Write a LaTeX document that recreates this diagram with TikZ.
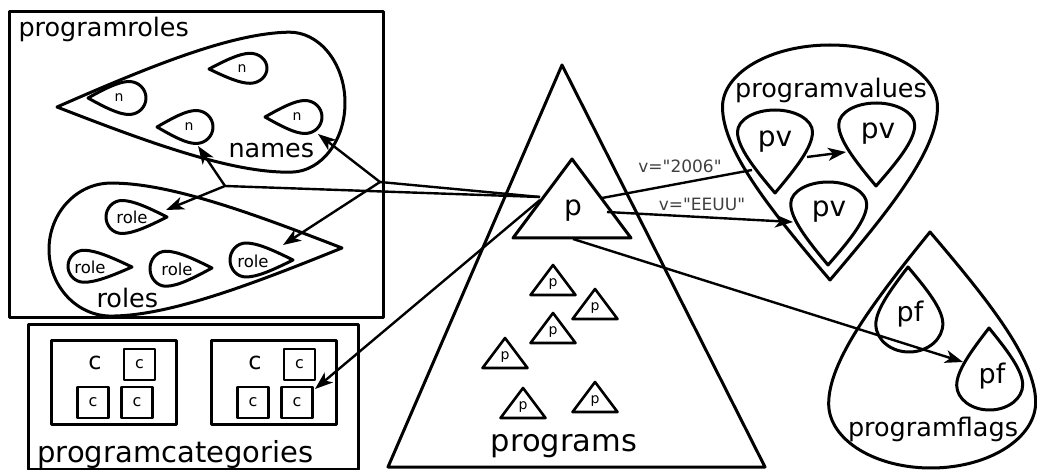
\documentclass[tikz,border=0pt]{standalone}
\usepackage{fontspec}
\setmainfont{DejaVu Sans}
\newfontfamily\rawfont{DejaVu Sans}[Ligatures=TeXOff]
\usetikzlibrary{arrows.meta}

% teardrop: tip x, tip y, far end x, far end y, half width, depth of the round part
\newcommand{\drop}[6]{%
  \pgfmathsetmacro{\dropang}{atan2(-(#4-#2),#3-#1)}
  \pgfmathsetmacro{\droplen}{veclen(#3-#1,#4-#2)}
  \pgfmathsetmacro{\dropmid}{\droplen-#6}
  \draw[shift={(#1,#2)},rotate=\dropang] (0,0)
    .. controls ({0.4*\dropmid},{0.55*#5}) and ({0.75*\dropmid},{#5}) .. (\dropmid,#5)
    arc[start angle=90,end angle=-90,x radius=#6,y radius=#5]
    .. controls ({0.75*\dropmid},{-#5}) and ({0.4*\dropmid},{-0.55*#5}) .. cycle;
}

\tikzset{
  link/.style={line width=2.4pt,-{Stealth[length=18pt,width=13pt,inset=5pt]}},
  plain link/.style={line width=2.4pt},
  title/.style={font=\fontsize{25.5}{28}\selectfont,inner sep=0pt},
  big/.style={font=\fontsize{28}{30}\selectfont,inner sep=0pt},
  tiny/.style={font=\fontsize{14}{16}\selectfont,inner sep=0pt},
  rolelbl/.style={font=\fontsize{16.5}{18}\selectfont,inner sep=0pt},
  edgelbl/.style={font=\rawfont\fontsize{17}{19}\selectfont,text=black!75,inner sep=0pt},
  catbox/.style={draw,line width=2.6pt,minimum size=31pt,inner sep=0pt,font=\fontsize{16}{18}\selectfont},
}

\begin{document}
\begin{tikzpicture}[x=1pt,y=-1pt,line join=round,line width=3pt]
  \useasboundingbox (0,0) rectangle (1037,470);

  % programroles
  \draw (9,12) rectangle (383,318);
  \node[title,anchor=base west] (prtitle) at (17,37) {programroles};
  \drop{57}{107}{345}{101}{70}{55}
  \node[title,anchor=base west] (names) at (227,158) {names};
  \drop{209}{69}{267}{68}{15}{17}
  \drop{88}{98}{146}{98}{16.5}{17}
  \drop{157}{127}{213}{127}{16.5}{17}
  \drop{265}{117}{322}{117}{16.5}{17}
  \node[tiny] (n1) at (242,69) {n};
  \node[tiny] (n2) at (119,98) {n};
  \node[tiny] (n3) at (189,127) {n};
  \node[tiny] (n4) at (297,117) {n};
  \drop{342}{248}{49}{250}{66.5}{62}
  \node[title,anchor=base west] (roles) at (95,308) {roles};
  \drop{167}{217}{106}{217}{16.5}{16}
  \drop{132}{267}{68}{266}{16}{16}
  \drop{212}{268}{150}{269}{17.5}{16}
  \drop{293}{260}{230}{260}{17}{16}
  \node[rolelbl] (role1) at (132,217) {role};
  \node[rolelbl] (role2) at (90,267) {role};
  \node[rolelbl] (role3) at (177,269) {role};
  \node[rolelbl] (role4) at (253,261) {role};

  % programcategories
  \draw (28,325) rectangle (358,469);
  \node[font=\fontsize{29}{31}\selectfont,inner sep=0pt,anchor=base west] (pctitle) at (36,462) {programcategories};
  \draw (51,341) rectangle (176,425);
  \node[font=\fontsize{24}{26}\selectfont,inner sep=0pt] (cat1) at (95,363) {c};
  \node[catbox] (cat1a) at (139.5,364.5) {c};
  \node[catbox] (cat1b) at (93,402.5) {c};
  \node[catbox] (cat1c) at (137,402.5) {c};
  \draw (211,341) rectangle (336,425);
  \node[font=\fontsize{24}{26}\selectfont,inner sep=0pt] (cat2) at (255,363) {c};
  \node[catbox] (cat2a) at (299.5,364.5) {c};
  \node[catbox] (cat2b) at (253,402.5) {c};
  \node[catbox] (cat2c) at (297,402.5) {c};

  % programs
  \draw (562,65) -- (765,467) -- (388,467) -- cycle;
  \node[font=\fontsize{30.5}{32}\selectfont,inner sep=0pt,anchor=base] (programs) at (564,452) {programs};
  \draw (572,159) -- (631,238) -- (513,238) -- cycle;
  \node[big] (p) at (573,211) {p};
  \foreach \x/\y [count=\i] in {553/265,595/289,553/313,505/338,523/388,595/382} {
    \draw[line width=2.6pt] (\x,\y) -- (\x+22.5,\y+30) -- (\x-22.5,\y+30) -- cycle;
    \node[tiny] (smallp\i) at (\x,\y+19) {p};
  }

  % programvalues
  \drop{830}{280}{830}{45}{107.5}{62}
  \node[title,anchor=base] (pvtitle) at (831,98) {programvalues};
  \drop{775}{193}{775}{110}{37.5}{22}
  \drop{876}{186}{877}{103}{38}{22}
  \drop{828}{265}{829}{182}{38}{22}
  \node[big] (pv1) at (775,142) {pv};
  \node[big] (pv2) at (878,134) {pv};
  \node[big] (pv3) at (829,212) {pv};

  % programflags
  \drop{930}{232}{933}{468}{103.5}{65}
  \node[title,anchor=base] (pftitle) at (933,437) {programflags};
  \drop{908}{267}{910}{352}{33.5}{28}
  \drop{989}{328}{990}{410}{33}{25}
  \node[big,font=\fontsize{27}{29}\selectfont] (pf1) at (910,314) {pf};
  \node[big,font=\fontsize{27}{29}\selectfont] (pf2) at (992,376) {pf};

  % connectors
  \coordinate (pleft) at (540,197);
  \coordinate (pdown) at (540,200);
  \coordinate (pright) at (602,198);
  \coordinate (pmid) at (607,212);
  \coordinate (pbot) at (573,239);
  \coordinate (fork1) at (225,186);
  \coordinate (fork2) at (380,182);
  \coordinate (n3in) at (198,146);
  \coordinate (n4in) at (318,134);
  \coordinate (role1in) at (166,210);
  \coordinate (role4in) at (283,245);
  \coordinate (catin) at (315,389);
  \coordinate (pv1in) at (752,170);
  \coordinate (pv1out) at (807,157);
  \coordinate (pv2in) at (846,152);
  \coordinate (pv3in) at (793,222);
  \coordinate (pf2in) at (963,362);

  \draw[plain link] (pleft) -- (fork1);
  \draw[link] (fork1) -- (n3in);
  \draw[link] (fork1) -- (role1in);
  \draw[plain link] (pleft) -- (fork2);
  \draw[link] (fork2) -- (n4in);
  \draw[link] (fork2) -- (role4in);
  \draw[link] (pdown) -- (catin);
  \draw[plain link] (pright) -- (pv1in);
  \node[edgelbl] (v2006) at (680,166) {v="2006"};
  \draw[link] (pmid) -- (pv3in);
  \node[edgelbl] (veeuu) at (702,204) {v="EEUU"};
  \draw[link] (pv1out) -- (pv2in);
  \draw[link] (pbot) -- (pf2in);
\end{tikzpicture}
\end{document}
